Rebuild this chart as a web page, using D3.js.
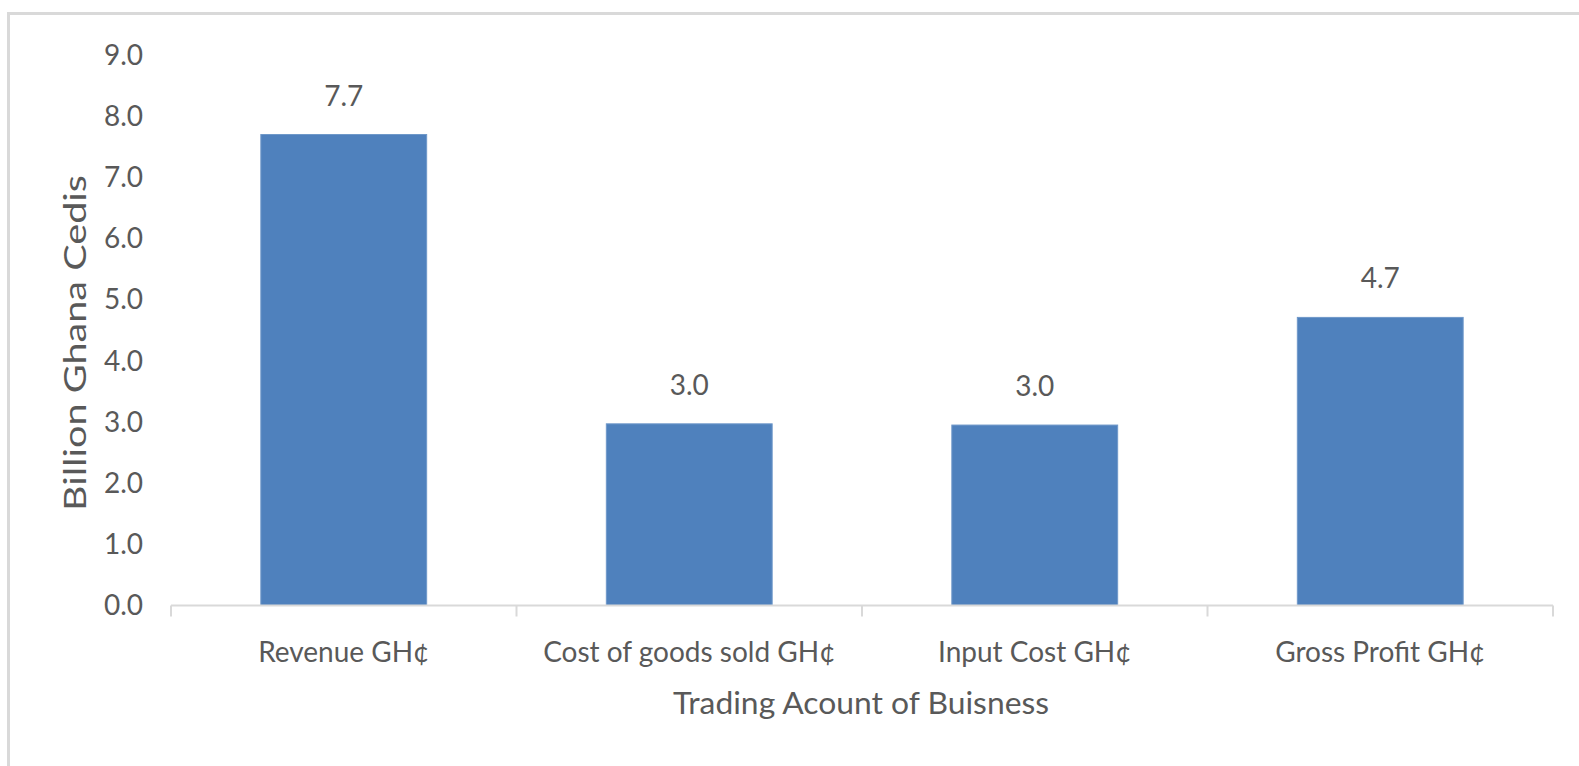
<!DOCTYPE html>
<html>
<head>
<meta charset="utf-8">
<script src="https://cdn.jsdelivr.net/npm/d3@7"></script>
<style>
  html, body { margin: 0; padding: 0; background: #fff; }
  svg { display: block; }
  text { font-family: Lato, "Open Sans", sans-serif; fill: #595959; }
</style>
</head>
<body>
<div id="wrapper"></div>
<script>
// chart data
const categories = ['Revenue GH¢', 'Cost of goods sold GH¢', 'Input Cost GH¢', 'Gross Profit GH¢'];
const values = [7.70, 2.97, 2.95, 4.71];
const yTicks = [0, 1, 2, 3, 4, 5, 6, 7, 8, 9];
const yTitle = 'Billion Ghana Cedis';
const xTitle = 'Trading Acount of Buisness';

function drawBarChart() {
	const dataset = categories.map((c, i) => ({ category: c, value: values[i] }));
	const xAccessor = d => d.category;
	const yAccessor = d => d.value;

	let dimensions = {
		width: 1579,
		height: 766,
		margin: { top: 55, right: 26, bottom: 160.5, left: 171 },
	};
	dimensions.boundedWidth = dimensions.width - dimensions.margin.left - dimensions.margin.right;
	dimensions.boundedHeight = dimensions.height - dimensions.margin.top - dimensions.margin.bottom;

	const wrapper = d3.select('#wrapper')
		.append('svg')
		.attr('width', dimensions.width)
		.attr('height', dimensions.height);

	// outer chart frame (only top and left edges fall inside the picture)
	wrapper.append('path')
		.attr('d', `M8.5,${dimensions.height} V13.5 H${dimensions.width}`)
		.attr('fill', 'none')
		.attr('stroke', '#d9d9d9')
		.attr('stroke-width', 3);

	const bounds = wrapper.append('g')
		.attr('transform', `translate(${dimensions.margin.left}, ${dimensions.margin.top})`);

	const xScale = d3.scaleBand()
		.domain(categories)
		.range([0, dimensions.boundedWidth])
		.paddingInner(0.52)
		.paddingOuter(0.26);

	const yScale = d3.scaleLinear()
		.domain([0, 9])
		.range([dimensions.boundedHeight, 0]);

	// bars
	bounds.append('g')
		.selectAll('rect')
		.data(dataset)
		.join('rect')
		.attr('x', d => xScale(xAccessor(d)))
		.attr('y', d => yScale(yAccessor(d)))
		.attr('width', xScale.bandwidth())
		.attr('height', d => dimensions.boundedHeight - yScale(yAccessor(d)))
		.attr('fill', '#4f81bd')
		.attr('stroke', '#6f98c9')
		.attr('stroke-width', 1);

	// data labels
	bounds.append('g')
		.selectAll('text')
		.data(dataset)
		.join('text')
		.attr('x', d => xScale(xAccessor(d)) + xScale.bandwidth() / 2)
		.attr('y', d => yScale(yAccessor(d)) - 29)
		.attr('text-anchor', 'middle')
		.style('font-size', '28px')
		.text(d => d3.format('.1f')(yAccessor(d)));

	// x axis: baseline with band boundary ticks
	const xAxisGroup = bounds.append('g')
		.attr('transform', `translate(0, ${dimensions.boundedHeight})`);
	xAxisGroup.append('line')
		.attr('x1', 0)
		.attr('x2', dimensions.boundedWidth)
		.attr('stroke', '#d9d9d9')
		.attr('stroke-width', 2);
	const boundaries = d3.range(categories.length + 1).map(i => i * dimensions.boundedWidth / categories.length);
	xAxisGroup.selectAll('.bound')
		.data(boundaries)
		.join('line')
		.attr('class', 'bound')
		.attr('x1', d => d)
		.attr('x2', d => d)
		.attr('y1', 0)
		.attr('y2', 11)
		.attr('stroke', '#d9d9d9')
		.attr('stroke-width', 2);
	xAxisGroup.selectAll('.cat')
		.data(categories)
		.join('text')
		.attr('class', 'cat')
		.attr('x', d => xScale(d) + xScale.bandwidth() / 2)
		.attr('y', 56)
		.attr('text-anchor', 'middle')
		.style('font-size', '28px')
		.text(d => d);

	// y axis labels
	bounds.append('g')
		.selectAll('text')
		.data(yTicks)
		.join('text')
		.attr('x', -28)
		.attr('y', d => yScale(d))
		.attr('dy', '0.35em')
		.attr('text-anchor', 'end')
		.style('font-size', '28px')
		.text(d => d3.format('.1f')(d));

	// axis titles (stretched like the original)
	wrapper.append('text')
		.attr('transform', `translate(86, 343) rotate(-90)`)
		.attr('text-anchor', 'middle')
		.attr('textLength', 336)
		.attr('lengthAdjust', 'spacingAndGlyphs')
		.style('font-size', '30px')
		.text(yTitle);

	wrapper.append('text')
		.attr('x', 861)
		.attr('y', 714)
		.attr('text-anchor', 'middle')
		.attr('textLength', 376)
		.attr('lengthAdjust', 'spacingAndGlyphs')
		.style('font-size', '31px')
		.text(xTitle);
}

drawBarChart();
</script>
</body>
</html>
